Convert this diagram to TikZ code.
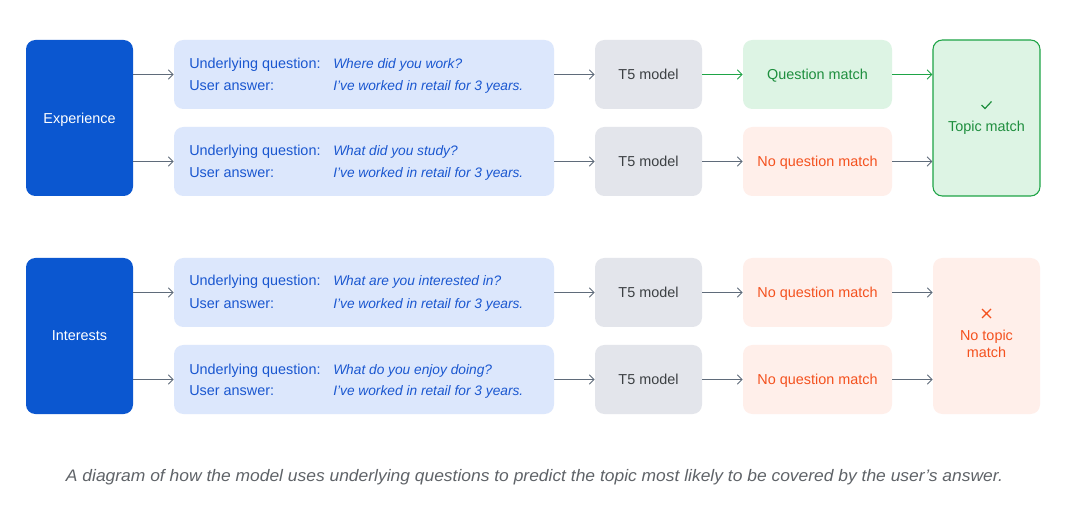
\documentclass[tikz,border=0pt]{standalone}
\usepackage{fontspec}
\setmainfont{Liberation Sans}
\usetikzlibrary{arrows.meta,fit}
\definecolor{dblue}{HTML}{0B57D0}
\definecolor{qfill}{HTML}{DCE7FC}
\definecolor{qtext}{HTML}{1A57D0}
\definecolor{tfill}{HTML}{E3E5EB}
\definecolor{ttext}{HTML}{3C4043}
\definecolor{gfill}{HTML}{DDF4E4}
\definecolor{gtext}{HTML}{1E8E3E}
\definecolor{gline}{HTML}{1EA446}
\definecolor{rfill}{HTML}{FFEFEA}
\definecolor{rtext}{HTML}{F4511E}
\definecolor{agray}{HTML}{5F6B7A}
\definecolor{capgray}{HTML}{5F6368}
\tikzset{
  box/.style={inner sep=0pt, rounded corners=7pt},
  topicbox/.style={box, fill=dblue},
  qbox/.style={box, fill=qfill},
  tbox/.style={box, fill=tfill},
  gbox/.style={box, fill=gfill},
  rbox/.style={box, fill=rfill},
  btxt/.style={inner sep=0pt, text depth=0pt, align=center, font=\fontsize{10.8}{13}\selectfont},
  lbl/.style={inner sep=0pt, anchor=base west, text=qtext, font=\fontsize{10.8}{13}\selectfont},
  ilbl/.style={lbl, font=\fontsize{10.3}{13}\selectfont\itshape},
  arr/.style={draw=agray, line width=0.75pt, -{Straight Barb[length=3.5pt,width=7pt,line width=0.75pt]}},
  garr/.style={arr, draw=gline}
}
\begin{document}
\begin{tikzpicture}[x=0.75pt,y=-0.75pt]
\useasboundingbox[fill=white] (0,0) rectangle (1081,509);
% ---- group 1
\node[topicbox, fit={(26,40) (133,196)}] (exp) {};
\node[btxt, text=white] (expt) at (79.5,118) {Experience};
\node[qbox, fit={(174,40) (554,109)}] (q1) {};
\node[qbox, fit={(174,127) (554,196)}] (q2) {};
\node[tbox, fit={(595,40) (702,109)}] (t1) {};
\node[tbox, fit={(595,127) (702,196)}] (t2) {};
\node[gbox, fit={(743,40) (892,109)}] (m1) {};
\node[rbox, fit={(743,127) (892,196)}] (m2) {};
\node[box, fill=gfill, draw=gline, line width=0.8pt, fit={(933,40) (1040,196)}] (top1) {};
% ---- group 2
\node[topicbox, fit={(26,258) (133,414)}] (int) {};
\node[btxt, text=white] (intt) at (79.5,336) {Interests};
\node[qbox, fit={(174,258) (554,327)}] (q3) {};
\node[qbox, fit={(174,345) (554,414)}] (q4) {};
\node[tbox, fit={(595,258) (702,327)}] (t3) {};
\node[tbox, fit={(595,345) (702,414)}] (t4) {};
\node[rbox, fit={(743,258) (892,327)}] (m3) {};
\node[rbox, fit={(743,345) (892,414)}] (m4) {};
\node[rbox, fit={(933,258) (1040,414)}] (top2) {};
% ---- texts
\node[btxt, text=ttext] (t1t) at (t1) {T5 model};
\node[btxt, text=ttext] (t2t) at (t2) {T5 model};
\node[btxt, text=ttext] (t3t) at (t3) {T5 model};
\node[btxt, text=ttext] (t4t) at (t4) {T5 model};
\node[btxt, text=gtext] (m1t) at (m1) {Question match};
\node[btxt, text=rtext] (m2t) at (m2) {No question match};
\node[btxt, text=rtext] (m3t) at (m3) {No question match};
\node[btxt, text=rtext] (m4t) at (m4) {No question match};
\draw[gtext, line width=0.9pt] (981.5,105) -- (985,108.5) -- (991.5,101.5);
\node[btxt, text=gtext] (topt1) at (986.5,126) {Topic match};
\draw[rtext, line width=0.9pt] (982,309) -- (991,318) (991,309) -- (982,318);
\node[btxt, text=rtext] (topt2) at (986.5,344) {No topic\\match};
% question texts
\node[lbl] (u1) at (189,69) {Underlying question:};
\node[ilbl] (w1) at (333,69) {Where did you work?};
\node[lbl] (a1) at (189,91) {User answer:};
\node[ilbl] (v1) at (333,91) {I've worked in retail for 3 years.};
\node[lbl] (u2) at (189,156) {Underlying question:};
\node[ilbl] (w2) at (333,156) {What did you study?};
\node[lbl] (a2) at (189,178) {User answer:};
\node[ilbl] (v2) at (333,178) {I've worked in retail for 3 years.};
\node[lbl] (u3) at (189,286) {Underlying question:};
\node[ilbl] (w3) at (333,286) {What are you interested in?};
\node[lbl] (a3) at (189,309) {User answer:};
\node[ilbl] (v3) at (333,309) {I've worked in retail for 3 years.};
\node[lbl] (u4) at (189,374) {Underlying question:};
\node[ilbl] (w4) at (333,374) {What do you enjoy doing?};
\node[lbl] (a4) at (189,396) {User answer:};
\node[ilbl] (v4) at (333,396) {I've worked in retail for 3 years.};
% ---- arrows
\draw[arr] (exp.east |- q1.west) -- (q1.west);
\draw[arr] (exp.east |- q2.west) -- (q2.west);
\draw[arr] (q1.east) -- (t1.west);
\draw[arr] (q2.east) -- (t2.west);
\draw[garr] (t1.east) -- (m1.west);
\draw[arr] (t2.east) -- (m2.west);
\draw[garr] (m1.east) -- (m1.east -| top1.west);
\draw[arr] (m2.east) -- (m2.east -| top1.west);
\draw[arr] (int.east |- q3.west) -- (q3.west);
\draw[arr] (int.east |- q4.west) -- (q4.west);
\draw[arr] (q3.east) -- (t3.west);
\draw[arr] (q4.east) -- (t4.west);
\draw[arr] (t3.east) -- (m3.west);
\draw[arr] (t4.east) -- (m4.west);
\draw[arr] (m3.east) -- (m3.east -| top2.west);
\draw[arr] (m4.east) -- (m4.east -| top2.west);
% ---- caption
\node[text=capgray, inner sep=0pt, font=\fontsize{12.5}{15}\selectfont\itshape] (cap) at (534.5,477)
  {\resizebox{702.75pt}{\height}{A diagram of how the model uses underlying questions to predict the topic most likely to be covered by the user’s answer.}};
\end{tikzpicture}
\end{document}
